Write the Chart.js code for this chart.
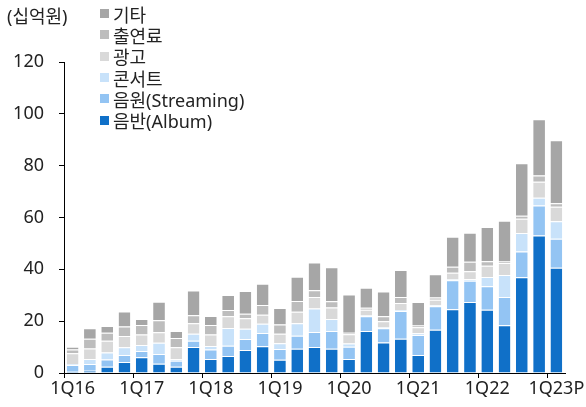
<!DOCTYPE html>
<html lang="ko">
<head>
<meta charset="utf-8">
<script src="https://cdn.jsdelivr.net/npm/chart.js@4/dist/chart.umd.min.js"></script>
<style>
    html, body { margin: 0; padding: 0; background: #fff; }
    #wrap { position: relative; width: 586px; height: 407px; font-family: "Noto Sans", "Noto Sans CJK KR", sans-serif; color: #222; }
    #unit { position: absolute; left: 7px; top: 5px; font-size: 18px; line-height: 22px; }
    #legend { position: absolute; left: 100px; top: 3px; }
    .item { height: 21.3px; display: flex; align-items: center; font-size: 18px; }
    .box { width: 9px; height: 9px; margin-right: 4px; }
</style>
</head>
<body>
<div id="wrap">
    <canvas id="chartMusica" width="586" height="407"></canvas>
    <div id="unit">(십억원)</div>
    <div id="legend"></div>
</div>
<script>
const quarters = [
    "1Q16", "2Q16", "3Q16", "4Q16", "1Q17", "2Q17", "3Q17", "4Q17",
    "1Q18", "2Q18", "3Q18", "4Q18", "1Q19", "2Q19", "3Q19", "4Q19",
    "1Q20", "2Q20", "3Q20", "4Q20", "1Q21", "2Q21", "3Q21", "4Q21",
    "1Q22", "2Q22", "3Q22", "4Q22", "1Q23P"
];

const album      = [0.5, 0.9, 2.4, 4.2, 6.1, 3.6, 2.4, 10.0, 5.4, 6.6, 8.9, 10.3, 5.1, 9.4, 10.0, 9.4, 5.4, 16.2, 11.8, 13.2, 6.9, 16.7, 24.6, 27.4, 24.4, 18.4, 36.9, 53.1, 40.6];
const streaming  = [2.6, 2.6, 2.8, 2.7, 2.4, 3.7, 2.3, 2.4, 3.7, 3.9, 4.2, 5.1, 4.2, 5.0, 5.8, 6.8, 4.7, 5.7, 5.5, 10.7, 7.8, 9.1, 11.2, 8.2, 9.1, 10.9, 10.0, 11.5, 11.2];
const concert    = [0.4, 1.9, 2.7, 3.0, 2.3, 4.4, 0.6, 2.7, 1.3, 6.9, 4.0, 3.6, 2.2, 4.8, 9.1, 4.6, 1.3, 0.3, 0.3, 0.4, 0.6, 0.3, 0.3, 0.6, 3.5, 8.5, 7.1, 3.0, 6.8];
const ad         = [4.1, 4.1, 4.5, 4.4, 4.1, 4.0, 4.6, 4.1, 4.5, 4.5, 4.0, 3.5, 3.6, 4.4, 4.4, 4.5, 3.6, 2.2, 2.4, 2.7, 2.4, 2.2, 2.6, 3.1, 4.4, 4.6, 5.5, 6.2, 5.5];
const appearance = [1.5, 3.7, 3.1, 3.6, 3.6, 4.7, 3.6, 3.1, 3.6, 2.4, 1.8, 3.7, 3.6, 4.2, 2.6, 2.4, 0.5, 0.8, 1.9, 2.3, 0.6, 0.8, 2.3, 3.6, 1.7, 0.6, 1.2, 2.4, 1.4];
const other      = [1.0, 4.1, 2.6, 5.8, 2.3, 7.1, 2.7, 9.5, 3.5, 5.8, 8.7, 8.2, 6.4, 9.3, 10.7, 13.1, 14.8, 7.7, 9.5, 10.4, 9.1, 9.0, 11.6, 11.2, 13.2, 15.7, 20.2, 21.7, 24.3];

const yTicks = [0, 20, 40, 60, 80, 100, 120];

// de abajo hacia arriba en la pila
const series = [
    { label: "음반(Album)",     data: album,      color: "#1070C8" },
    { label: "음원(Streaming)", data: streaming,  color: "#93C4F3" },
    { label: "콘서트",          data: concert,    color: "#C8E2FA" },
    { label: "광고",            data: ad,         color: "#D9D9D9" },
    { label: "출연료",          data: appearance, color: "#BDBDBD" },
    { label: "기타",            data: other,      color: "#A6A6A6" }
];

document.addEventListener("DOMContentLoaded", () => {
    initLegend();
    initChart();
});

function initLegend() {
    const el = document.getElementById("legend");
    series.slice().reverse().forEach(s => {
        const row = document.createElement("div");
        row.className = "item";
        row.innerHTML = `<span class="box" style="background:${s.color}"></span><span>${s.label}</span>`;
        el.appendChild(row);
    });
}

function initChart() {
    const ctx = document.getElementById("chartMusica");
    const font = { family: '"Noto Sans", "Noto Sans CJK KR", sans-serif', size: 18 };

    new Chart(ctx, {
        type: 'bar',
        data: {
            labels: quarters,
            datasets: series.map(s => ({
                label: s.label,
                data: s.data,
                backgroundColor: s.color,
                borderColor: "rgba(255,255,255,0.85)",
                borderWidth: { top: 1, left: 0, right: 0, bottom: 0 },
                borderSkipped: 'start',
                barPercentage: 0.68,
                categoryPercentage: 1.0
            }))
        },
        options: {
            responsive: false,
            animation: false,
            layout: { padding: { top: 62, right: 21, bottom: 0, left: 0 } },
            plugins: { legend: { display: false }, tooltip: { enabled: false } },
            scales: {
                x: {
                    stacked: true,
                    border: { color: "#000", width: 1 },
                    grid: {
                        offset: true,
                        drawOnChartArea: false,
                        tickLength: 5,
                        tickColor: c => (c.index % 4 === 0 ? "#000" : "rgba(0,0,0,0)")
                    },
                    ticks: {
                        autoSkip: false,
                        maxRotation: 0,
                        color: "#222",
                        font: font,
                        padding: 0,
                        callback: (v, i) => (i % 4 === 0 || i === quarters.length - 1 ? quarters[i] : "")
                    },
                    afterFit: s => { s.height = 34; }
                },
                y: {
                    stacked: true,
                    min: 0,
                    max: 120,
                    afterBuildTicks: s => { s.ticks = yTicks.map(v => ({ value: v })); },
                    border: { color: "#000", width: 1 },
                    grid: { drawOnChartArea: false, tickLength: 5, tickColor: "#000" },
                    ticks: { color: "#222", font: font, padding: 15 },
                    afterFit: s => { s.width = 64; }
                }
            }
        }
    });
}
</script>
</body>
</html>
